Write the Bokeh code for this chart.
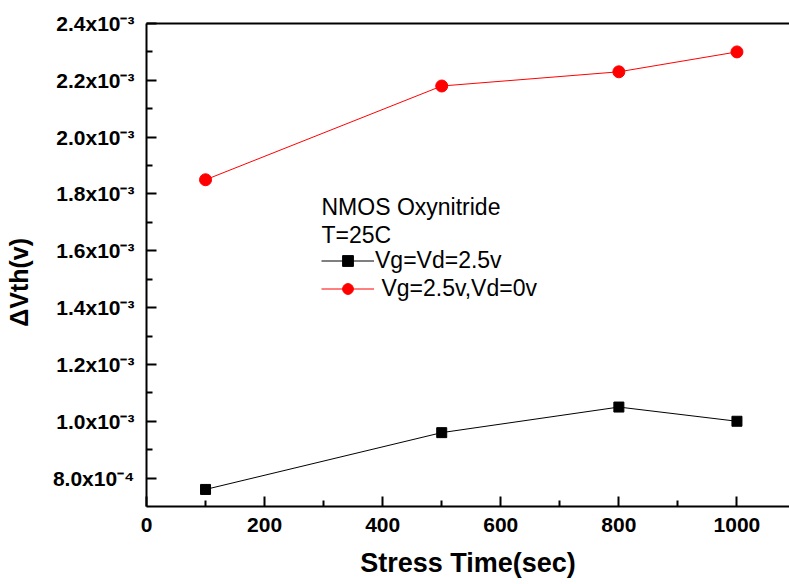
from bokeh.plotting import figure
from bokeh.models import Label, Legend, LegendItem, LinearAxis, FixedTicker, Range1d
from bokeh.embed import file_html
from bokeh.resources import INLINE

# ---- data ----
stress_time = [100, 500, 800, 1000]
dvth_vg_vd = [7.6e-4, 9.6e-4, 1.05e-3, 1.0e-3]        # Vg=Vd=2.5v
dvth_vg_only = [1.85e-3, 2.18e-3, 2.23e-3, 2.30e-3]   # Vg=2.5v, Vd=0v
x_ticks = [0, 200, 400, 600, 800, 1000]
y_ticks = [8.0e-4, 1.0e-3, 1.2e-3, 1.4e-3, 1.6e-3, 1.8e-3, 2.0e-3, 2.2e-3, 2.4e-3]
y_tick_labels = ["8.0x10\u207b\u2074", "1.0x10\u207b\u00b3", "1.2x10\u207b\u00b3",
                 "1.4x10\u207b\u00b3", "1.6x10\u207b\u00b3", "1.8x10\u207b\u00b3",
                 "2.0x10\u207b\u00b3", "2.2x10\u207b\u00b3", "2.4x10\u207b\u00b3"]
legend_header = ["NMOS Oxynitride", "T=25C"]
series_names = ["Vg=Vd=2.5v", "\u00a0Vg=2.5v,Vd=0v"]
x_title = "Stress Time(sec)"
y_title = "\u0394Vth(v)\u00a0\u00a0\u00a0\u00a0\u00a0"

FONT = "Liberation Sans"

p = figure(width=789, height=584, output_backend="svg", toolbar_location=None,
           x_range=Range1d(0, 1089), y_range=Range1d(0.7e-3, 2.4e-3),
           min_border_left=146, min_border_top=23, min_border_right=0,
           min_border_bottom=78, x_axis_location=None, y_axis_location=None)
p.outline_line_color = None
p.grid.visible = False
p.background_fill_color = "white"
p.border_fill_color = "white"


def midpoints(t):
    return [(a + b) / 2 for a, b in zip(t[:-1], t[1:])]


xaxis = LinearAxis(ticker=FixedTicker(ticks=x_ticks, minor_ticks=midpoints(x_ticks)))
yaxis = LinearAxis(ticker=FixedTicker(ticks=y_ticks, minor_ticks=midpoints(y_ticks)))
for ax in (xaxis, yaxis):
    ax.axis_line_width = 2
    ax.major_tick_line_width = 2
    ax.minor_tick_line_width = 2
    ax.major_tick_in = 10
    ax.major_tick_out = 0
    ax.minor_tick_in = 6
    ax.minor_tick_out = 0
    ax.major_label_text_font = FONT
    ax.major_label_text_font_style = "bold"
    ax.major_label_text_font_size = "21px"
    ax.major_label_text_color = "black"
    ax.axis_label_text_font = FONT
    ax.axis_label_text_font_style = "bold"
    ax.axis_label_text_color = "black"

xaxis.major_label_standoff = 11
xaxis.axis_label = x_title
xaxis.axis_label_text_font_size = "27px"
xaxis.axis_label_standoff = 13
p.add_layout(xaxis, "below")

yaxis.major_label_overrides = {v: s for v, s in zip(y_ticks, y_tick_labels)}
yaxis.major_label_standoff = 12
yaxis.axis_label = y_title
yaxis.axis_label_text_font_size = "25px"
yaxis.axis_label_standoff = 17
p.add_layout(yaxis, "left")

top = LinearAxis(ticker=FixedTicker(ticks=[]), axis_line_width=2,
                 major_tick_in=0, major_tick_out=0, minor_tick_in=0, minor_tick_out=0,
                 major_label_text_font_size="0px")
p.add_layout(top, "above")

r1 = p.line(stress_time, dvth_vg_vd, line_color="black", line_width=1)
m1 = p.scatter(stress_time, dvth_vg_vd, marker="square", size=10, color="black")
r2 = p.line(stress_time, dvth_vg_only, line_color="red", line_width=1)
m2 = p.scatter(stress_time, dvth_vg_only, marker="circle", size=12, color="red")

for i, t in enumerate(legend_header):
    p.add_layout(Label(x=0, y=p.y_range.start, x_offset=175, y_offset=300 - i * 28,
                       text=t, text_font=FONT, text_font_size="23px",
                       text_baseline="alphabetic", text_color="black"))

legend = Legend(items=[LegendItem(label=series_names[0], renderers=[r1, m1]),
                       LegendItem(label=series_names[1], renderers=[r2, m2])],
                location=(175, 204), glyph_width=53, glyph_height=27,
                label_height=20, spacing=1, padding=0, margin=0, label_standoff=1,
                border_line_color=None, background_fill_alpha=0,
                label_text_font=FONT, label_text_font_size="23px",
                label_text_color="black")
p.add_layout(legend, "center")

open("out.html", "w").write(file_html(p, INLINE))
